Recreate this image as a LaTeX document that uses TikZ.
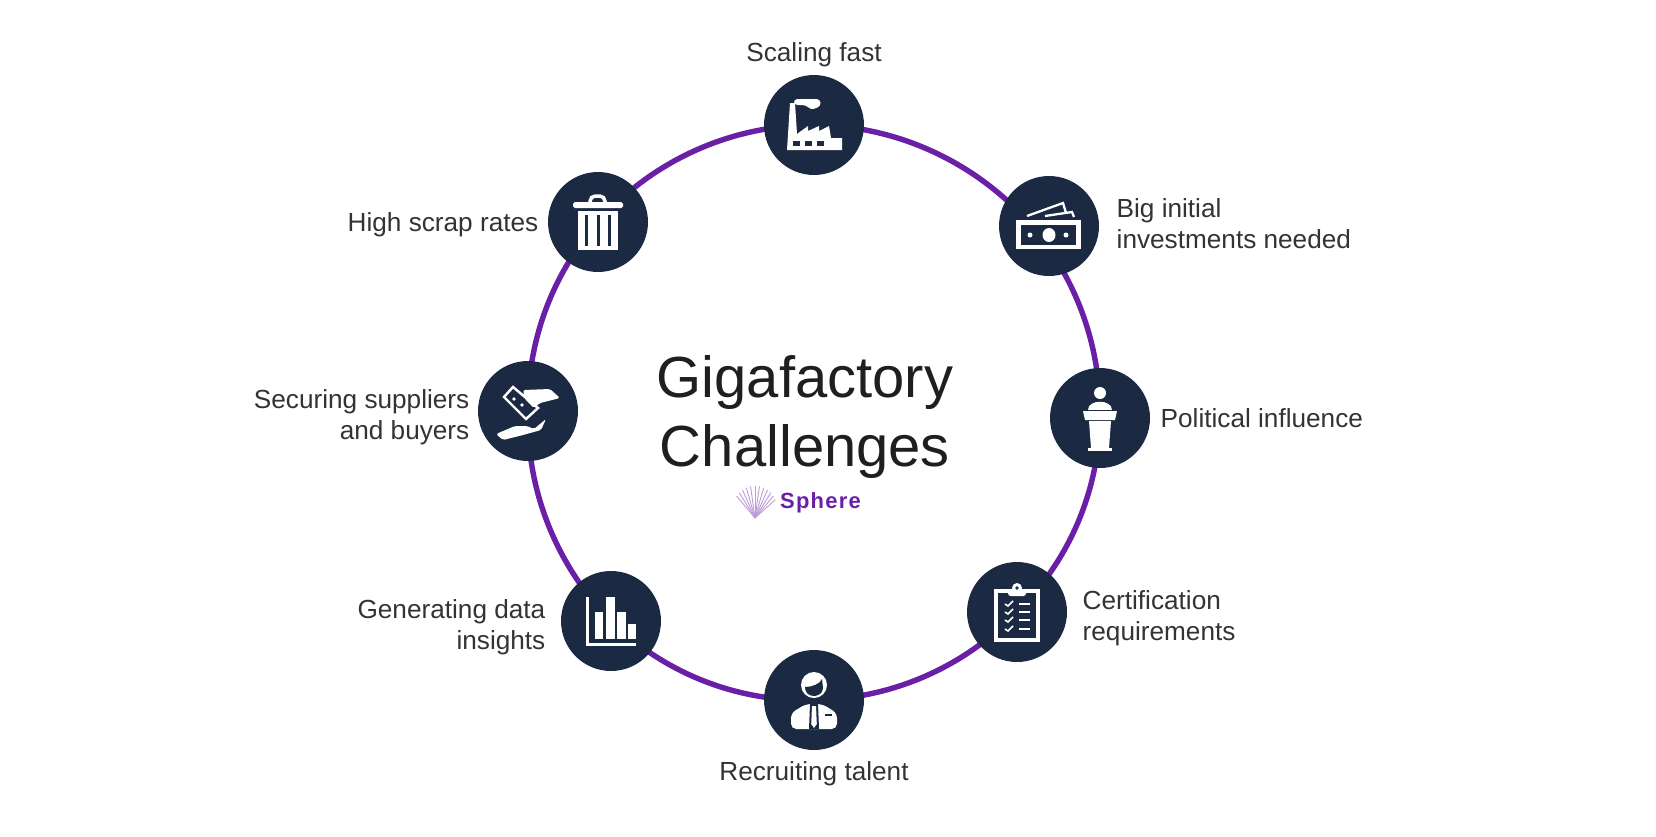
\documentclass[tikz,border=0pt]{standalone}
\usepackage{fontspec}
\setmainfont{Liberation Sans}
\usetikzlibrary{positioning, backgrounds}
\definecolor{gfnavy}{HTML}{1B2A42}
\definecolor{gfpurple}{HTML}{6A20A6}
\definecolor{gfgrey}{HTML}{333333}
\tikzset{
    hub/.style={circle, fill=gfnavy, minimum size=2cm, inner sep=0pt},
    ring/.style={draw=gfpurple, line width=3.1pt},
    tag/.style={text=gfgrey, inner sep=0pt, font=\fontsize{14.9}{17.6}\selectfont},
    iconfill/.style={fill=white, draw=none},
    iconline/.style={draw=white, line width=2pt},
    icongap/.style={fill=gfnavy, draw=none}
}
\begin{document}
\begin{tikzpicture}[x=0.02cm, y=-0.02cm]
    \useasboundingbox (0,0) rectangle (1656,836);

    \node[hub] (scaling) at (814,125) {};
    \node[hub] (invest) at (1049,226) {};
    \node[hub] (politics) at (1100,418) {};
    \node[hub] (certif) at (1017,612) {};
    \node[hub] (recruit) at (814,700) {};
    \node[hub] (insight) at (611,621) {};
    \node[hub] (supply) at (528,411) {};
    \node[hub] (scrap) at (598,222) {};
    \coordinate (investring) at (1038.6,234.3);

    \begin{scope}[on background layer]
      \foreach \from/\to/\bend in {scaling/investring/25.7, investring/politics/19.2, politics/certif/22.2,
        certif/recruit/22.8, recruit/insight/23, insight/supply/23, supply/scrap/20.7, scrap/scaling/24.3}
        \draw[ring] (\from.center) to[bend left=\bend, looseness=.89] (\to.center);
    \end{scope}

    \node[tag, above=11.2pt of scaling.north, anchor=center] (scalingtag) {Scaling fast};
    \node[tag, align=left, right=0.34cm of invest, yshift=1.5pt] (investtag) {Big initial\\investments needed};
    \node[tag, right=0.2cm of politics] (politicstag) {Political influence};
    \node[tag, align=left, right=0.3cm of certif, yshift=-3.6pt] (certiftag) {Certification\\requirements};
    \node[tag, below=13.2pt of recruit.south, anchor=center] (recruittag) {Recruiting talent};
    \node[tag, align=right, left=0.3cm of insight, yshift=-3.6pt] (insighttag) {Generating data\\insights};
    \node[tag, align=right, left=0.16cm of supply, yshift=-3.8pt] (supplytag) {Securing suppliers\\and buyers};
    \node[tag, left=0.18cm of scrap, yshift=-1.8pt] (scraptag) {High scrap rates};

    \node[font=\fontsize{33}{39}\selectfont, text=black!88, align=center, inner sep=0pt] (title) at (805,417) {Gigafactory\\Challenges};
    \node[font=\bfseries\fontsize{12.5}{15}\selectfont, text=gfpurple, inner sep=0pt] (brand) at (820.5,503) {S\kern.7pt p\kern.7pt h\kern.7pt e\kern.7pt r\kern.7pt e};
    \foreach \a in {42,50,...,130}
      \draw[gfpurple!45, line width=0.5pt] (755,518) -- ++(-\a:{18+14*sin(\a)});

    % factory
    \begin{scope}[shift={(scaling)}]
      \filldraw[iconfill] (-27,25)--(-24,-22)--(-19,-22)--(-17,9)--(-6,1)--(-6,6)--(5,1)--(5,6)--(15,1)--(17,13)--(28,13)--(28,25)--cycle;
      \filldraw[iconfill, rounded corners=2pt] (-20,-26)--(6,-26)--(7,-19)--(-3,-15)--(-8,-20)--(-20,-20)--cycle;
      \foreach \x in {-21,-9,3}
        \fill[icongap] (\x,16) rectangle ++(7,5);
    \end{scope}

    % banknotes
    \begin{scope}[shift={(invest)}]
      \filldraw[iconfill] (-33,-6) rectangle (32,23);
      \fill[icongap] (-28,-1) rectangle (27,19);
      \fill[white] (0,9) ellipse[x radius=6.5,y radius=7];
      \fill[white] (-19,9) circle (2.5);
      \fill[white] (17,9) circle (2.5);
      \draw[iconline, line width=1.3pt] (-22,-10)--(14,-23)--(17,-13);
      \draw[iconline, line width=1.3pt] (-4,-10)--(23,-14)--(25,-9);
    \end{scope}

    % podium
    \begin{scope}[shift={(politics)}]
      \fill[white] (0,-25) circle (6);
      \fill[white] (-12,-8) .. controls (-12,-19) and (12,-19) .. (12,-8) -- cycle;
      \fill[white] (-17,-7)--(17,-7)--(15,2)--(-15,2)--cycle;
      \fill[white] (-11,3)--(11,3)--(9,30)--(-9,30)--cycle;
      \fill[white] (-12,30) rectangle (12,33);
    \end{scope}

    % clipboard
    \begin{scope}[shift={(certif)}]
      \draw[iconline] (-21,-21) rectangle (21,28);
      \filldraw[iconfill, rounded corners=1.5pt] (-9,-22) rectangle (9,-16);
      \fill[white] (0,-24) circle (5);
      \fill[gfnavy] (0,-24) circle (1.8);
      \foreach \y in {-8,0,8,17} {
        \draw[white, line width=0.9pt] (-12,\y) -- (-9,\y+2) -- (-4,\y-3);
        \fill[white] (2,\y-1.2) rectangle (13,\y+1.2);
      }
    \end{scope}

    % person
    \begin{scope}[shift={(recruit)}]
      \filldraw[iconfill, rounded corners=3pt] (-23,29)--(-23,13)--(-8,4)--(8,4)--(23,13)--(23,29)--cycle;
      \fill[white] (0,-15) circle (13);
      \fill[gfnavy] (-9,-13) .. controls (-2,-13) and (6,-16) .. (8,-21) -- (9,-12) .. controls (9,-6) and (3,-4) .. (0,-4) .. controls (-6,-4) and (-9,-8) .. (-9,-13);
      \fill[gfnavy] (-4,4)--(4,4)--(5,29)--(-5,29)--cycle;
      \fill[white] (-2,6)--(2,6)--(2.8,24)--(0,28)--(-2.8,24)--cycle;
      \fill[gfnavy] (11,14) rectangle (18,16);
    \end{scope}

    % bar chart
    \begin{scope}[shift={(insight)}]
      \fill[white] (-25,-24) rectangle (-22,25);
      \fill[white] (-25,22) rectangle (25,25);
      \fill[white] (-16,-9) rectangle (-8,18);
      \fill[white] (-5,-24) rectangle (4,18);
      \fill[white] (6,-9) rectangle (15,18);
      \fill[white] (17,3) rectangle (25,18);
    \end{scope}

    % hands and note
    \begin{scope}[shift={(supply)}]
      \filldraw[draw=white, fill=gfnavy, line width=1.4pt] (-24,-14)--(-15,-24)--(10,-3)--(-2,8)--cycle;
      \fill[white] (-14,-12) circle (1.8);
      \fill[white] (-6,-6) circle (1.8);
      \fill[white, rounded corners=1pt] (-5,-21)--(22,-22)--(32,-13)--(12,-8)--(6,-3)--(-3,-12)--cycle;
      \fill[white, rounded corners=1pt] (-32,23)--(-13,15)--(-1,15)--(6,18)--(18,8)--(13,19)--(-5,24)--(-25,29)--cycle;
    \end{scope}

    % bin
    \begin{scope}[shift={(scrap)}]
      \filldraw[iconfill, rounded corners=1pt] (-25,-20) rectangle (25,-14);
      \draw[iconline, rounded corners=3pt] (-8,-20)--(-8,-26)--(7,-26)--(7,-20);
      \filldraw[iconfill] (-20,-11) rectangle (20,28);
      \foreach \x in {-13,-1.5,10}
        \fill[icongap] (\x,-7) rectangle ++(3.2,31);
    \end{scope}
\end{tikzpicture}
\end{document}
